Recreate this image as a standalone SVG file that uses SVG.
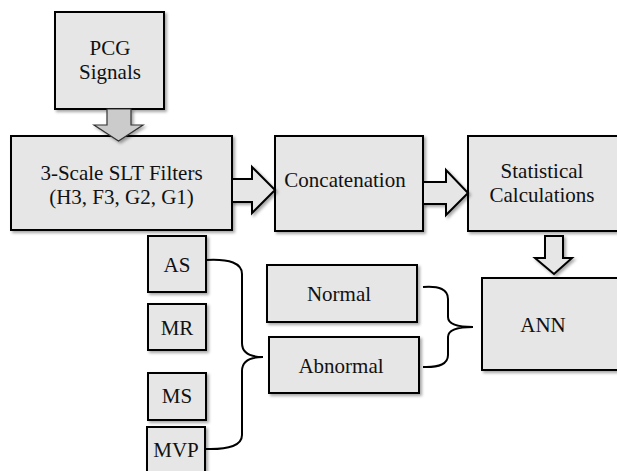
<svg xmlns="http://www.w3.org/2000/svg" width="617" height="471" viewBox="0 0 617 471">
  <defs>
    <filter id="shadow" x="-10%" y="-10%" width="130%" height="130%">
      <feDropShadow dx="2" dy="2" stdDeviation="1.5" flood-color="#000" flood-opacity="0.35"/>
    </filter>
  </defs>
  <style>
    .box { fill: #e6e6e6; stroke: #000; stroke-width: 2; filter: url(#shadow); }
    text { font-size: 21px; fill: #111; text-anchor: middle; }
    .arrow { fill: #e6e6e6; stroke: #000; stroke-width: 2; stroke-linejoin: miter; filter: url(#shadow); }
    .arrow-dark { fill: #cbcbcb; stroke: #333; stroke-width: 1.2; filter: url(#shadow); }
    .brace { fill: none; stroke: #000; stroke-width: 2; }
  </style>

  <rect width="617" height="471" fill="#fff"/>

  <g font-family="Liberation Serif, Times New Roman, serif">
  <g id="pcg">
    <rect class="box" x="55" y="12" width="109" height="97"/>
    <text x="110" y="55">PCG</text>
    <text x="110" y="79">Signals</text>
  </g>

  <g id="slt">
    <rect class="box" x="11" y="136" width="221" height="94"/>
    <text x="121.5" y="180">3-Scale SLT Filters</text>
    <text x="121.5" y="204">(H3, F3, G2, G1)</text>
  </g>

  <g id="concatenation">
    <rect class="box" x="275" y="136" width="148" height="95"/>
    <text x="345" y="187">Concatenation</text>
  </g>

  <g id="statistical">
    <rect class="box" x="468" y="136" width="160" height="95"/>
    <text x="542" y="178">Statistical</text>
    <text x="542" y="202">Calculations</text>
  </g>

  <g id="ann">
    <rect class="box" x="482" y="278" width="146" height="92"/>
    <text x="543" y="332">ANN</text>
  </g>

  <g id="normal">
    <rect class="box" x="267" y="265" width="150" height="57"/>
    <text x="339" y="301">Normal</text>
  </g>

  <g id="abnormal">
    <rect class="box" x="269" y="337" width="150" height="56"/>
    <text x="341" y="373">Abnormal</text>
  </g>

  <g id="as">
    <rect class="box" x="148" y="236" width="58" height="56"/>
    <text x="177" y="272">AS</text>
  </g>

  <g id="mr">
    <rect class="box" x="148" y="304" width="58" height="46"/>
    <text x="177" y="335">MR</text>
  </g>

  <g id="ms">
    <rect class="box" x="148" y="373" width="58" height="47"/>
    <text x="177" y="403">MS</text>
  </g>

  <g id="mvp">
    <rect class="box" x="147" y="427" width="58" height="60"/>
    <text x="176" y="457">MVP</text>
  </g>
  </g>

  <g id="connectors">
    <!-- PCG Signals down to the filter bank -->
    <polygon class="arrow-dark" points="107,109 131,109 131,125 143,125 118.5,141 94,125 107,125"/>
    <!-- filters to concatenation -->
    <polygon class="arrow" points="232,179 252,179 252,167 275,190 252,213 252,202 232,202"/>
    <!-- concatenation to statistics -->
    <polygon class="arrow" points="423,182 446,182 446,170 468,193 446,215 446,204 423,204"/>
    <!-- statistics down to ANN -->
    <polygon class="arrow" points="545,236 563,236 563,258 572,258 554,274 535,258 545,258"/>
    <!-- disease classes grouped into Abnormal -->
    <path class="brace" d="M206,260 Q242,258 242,274 L242,343 Q242,357 263,357 Q242,357 242,371 L242,435 Q242,450 206,449"/>
    <!-- Normal / Abnormal grouped into ANN -->
    <path class="brace" d="M423,287 Q448,285 448,299 L448,317 Q448,327 473,327 Q448,327 448,337 L448,355 Q448,368 423,367"/>
  </g>
</svg>
